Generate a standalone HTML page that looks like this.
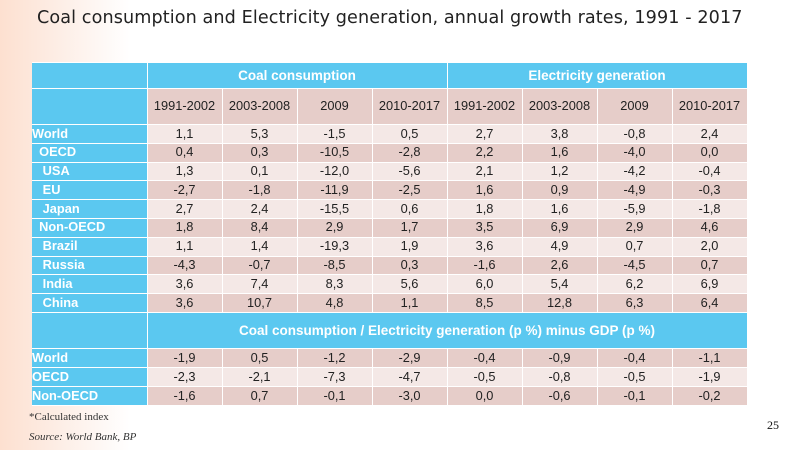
<!DOCTYPE html>
<html><head><meta charset="utf-8">
<style>
*{margin:0;padding:0;box-sizing:border-box}
body{width:800px;height:450px;overflow:hidden;position:relative;font-family:"Liberation Sans",sans-serif;
background:linear-gradient(90deg,#fde0d0 0px,#fdeee6 60px,#fff 130px,#fff 100%);}
.title{position:absolute;left:37px;top:8px;font-family:"DejaVu Sans",sans-serif;font-size:17.6px;color:#222;white-space:nowrap;letter-spacing:0.1px}
table{position:absolute;left:32px;top:62px;border-collapse:collapse;table-layout:fixed;width:715px}
td{border:1.5px solid #fff;text-align:center;font-size:12.8px;color:#222;padding:0;line-height:1;overflow:hidden;white-space:nowrap}
td.l{background:#5bc8f0;color:#fff;font-weight:bold;text-align:left;border-left:none}
.h1 td{background:#5bc8f0;color:#fff;font-weight:bold;font-size:13.5px;height:26px}
.h2 td{background:#e6cdc9;height:36px}
.a td{background:#f4e8e6;height:18.8px}
.b td{background:#e6cdc9;height:18.8px}
.sub td{background:#5bc8f0;color:#fff;font-weight:bold;font-size:13.5px;height:36px}
.c td{height:19px}
tr td.l{background:#5bc8f0}
.foot1{position:absolute;left:29px;top:411px;font-family:"Liberation Serif",serif;font-size:11px;color:#333}
.foot2{position:absolute;left:29px;top:431px;font-family:"Liberation Serif",serif;font-style:italic;font-size:11px;color:#333}
.pg{position:absolute;left:767px;top:418px;font-family:"Liberation Serif",serif;font-size:12px;color:#111}
</style></head><body>
<div class="title">Coal consumption and Electricity generation, annual growth rates, 1991 - 2017</div>
<table>
<colgroup><col style="width:115px"><col style="width:75px"><col style="width:75px"><col style="width:75px"><col style="width:75px"><col style="width:75px"><col style="width:75px"><col style="width:75px"><col style="width:75px"></colgroup>
<tr class="h1"><td class="l"></td><td colspan="4">Coal consumption</td><td colspan="4">Electricity generation</td></tr>
<tr class="h2"><td class="l"></td><td>1991-2002</td><td>2003-2008</td><td>2009</td><td>2010-2017</td><td>1991-2002</td><td>2003-2008</td><td>2009</td><td>2010-2017</td></tr>
<tr class="a"><td class="l">World</td><td>1,1</td><td>5,3</td><td>-1,5</td><td>0,5</td><td>2,7</td><td>3,8</td><td>-0,8</td><td>2,4</td></tr>
<tr class="b"><td class="l">&nbsp; OECD</td><td>0,4</td><td>0,3</td><td>-10,5</td><td>-2,8</td><td>2,2</td><td>1,6</td><td>-4,0</td><td>0,0</td></tr>
<tr class="a"><td class="l">&nbsp;&nbsp; USA</td><td>1,3</td><td>0,1</td><td>-12,0</td><td>-5,6</td><td>2,1</td><td>1,2</td><td>-4,2</td><td>-0,4</td></tr>
<tr class="b"><td class="l">&nbsp;&nbsp; EU</td><td>-2,7</td><td>-1,8</td><td>-11,9</td><td>-2,5</td><td>1,6</td><td>0,9</td><td>-4,9</td><td>-0,3</td></tr>
<tr class="a"><td class="l">&nbsp;&nbsp; Japan</td><td>2,7</td><td>2,4</td><td>-15,5</td><td>0,6</td><td>1,8</td><td>1,6</td><td>-5,9</td><td>-1,8</td></tr>
<tr class="b"><td class="l">&nbsp; Non-OECD</td><td>1,8</td><td>8,4</td><td>2,9</td><td>1,7</td><td>3,5</td><td>6,9</td><td>2,9</td><td>4,6</td></tr>
<tr class="a"><td class="l">&nbsp;&nbsp; Brazil</td><td>1,1</td><td>1,4</td><td>-19,3</td><td>1,9</td><td>3,6</td><td>4,9</td><td>0,7</td><td>2,0</td></tr>
<tr class="b"><td class="l">&nbsp;&nbsp; Russia</td><td>-4,3</td><td>-0,7</td><td>-8,5</td><td>0,3</td><td>-1,6</td><td>2,6</td><td>-4,5</td><td>0,7</td></tr>
<tr class="a"><td class="l">&nbsp;&nbsp; India</td><td>3,6</td><td>7,4</td><td>8,3</td><td>5,6</td><td>6,0</td><td>5,4</td><td>6,2</td><td>6,9</td></tr>
<tr class="b"><td class="l">&nbsp;&nbsp; China</td><td>3,6</td><td>10,7</td><td>4,8</td><td>1,1</td><td>8,5</td><td>12,8</td><td>6,3</td><td>6,4</td></tr>
<tr class="sub"><td class="l"></td><td colspan="8">Coal consumption / Electricity generation (p %) minus GDP (p %)</td></tr>
<tr class="b c"><td class="l">World</td><td>-1,9</td><td>0,5</td><td>-1,2</td><td>-2,9</td><td>-0,4</td><td>-0,9</td><td>-0,4</td><td>-1,1</td></tr>
<tr class="a c"><td class="l">OECD</td><td>-2,3</td><td>-2,1</td><td>-7,3</td><td>-4,7</td><td>-0,5</td><td>-0,8</td><td>-0,5</td><td>-1,9</td></tr>
<tr class="b c"><td class="l">Non-OECD</td><td>-1,6</td><td>0,7</td><td>-0,1</td><td>-3,0</td><td>0,0</td><td>-0,6</td><td>-0,1</td><td>-0,2</td></tr>
</table>
<div class="foot1">*Calculated index</div>
<div class="foot2">Source: World Bank, BP</div>
<div class="pg">25</div>
</body></html>
